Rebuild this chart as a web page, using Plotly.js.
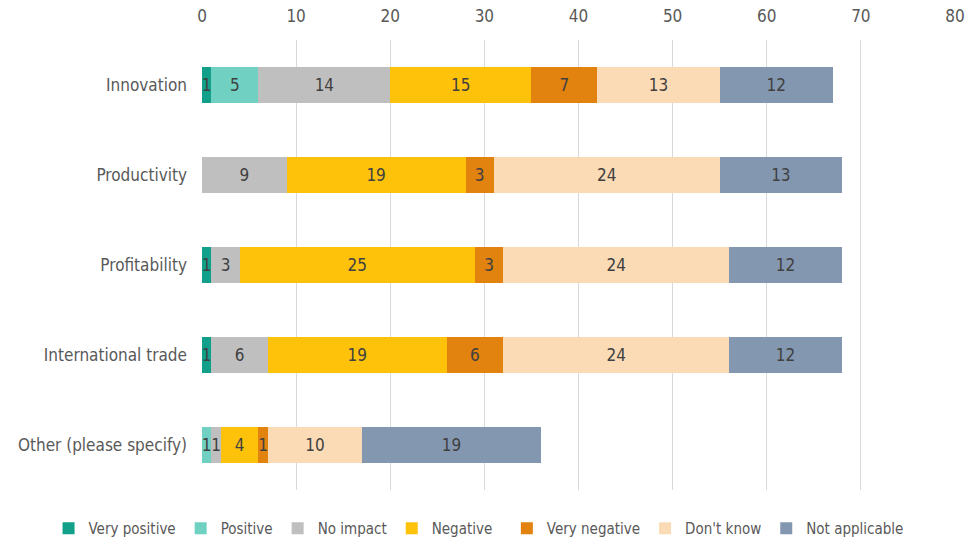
<!DOCTYPE html>
<html>
<head>
<meta charset="utf-8">
<script src="https://cdn.plot.ly/plotly-3.0.1.min.js"></script>
<style>html,body{margin:0;padding:0;background:#fff;}#chart{width:971px;height:545px;}</style>
</head>
<body>
<div id="chart"></div>
<script>
const categories = ["Innovation", "Productivity", "Profitability", "International trade", "Other (please specify)"];
const seriesNames = ["Very positive", "Positive", "No impact", "Negative", "Very negative", "Don't know", "Not applicable"];
const veryPositive = [1, 0, 1, 1, 0];
const positive = [5, 0, 0, 0, 1];
const noImpact = [14, 9, 3, 6, 1];
const negative = [15, 19, 25, 19, 4];
const veryNegative = [7, 3, 3, 6, 1];
const dontKnow = [13, 24, 24, 24, 10];
const notApplicable = [12, 13, 12, 12, 19];
const tickVals = [0, 10, 20, 30, 40, 50, 60, 70, 80];

const seriesValues = [veryPositive, positive, noImpact, negative, veryNegative, dontKnow, notApplicable];
const colors = ["#12A08A", "#70D0C2", "#BFBFBF", "#FFC20A", "#E2820F", "#FBDBB6", "#8497B0"];
const legendGroups = ["legend", "legend", "legend", "legend", "legend2", "legend2", "legend2"];
const FONT = "'DejaVu Sans Condensed', sans-serif";

const traces = seriesNames.map((name, i) => ({
  type: "bar",
  orientation: "h",
  name: name,
  legend: legendGroups[i],
  y: categories,
  x: seriesValues[i],
  text: seriesValues[i].map(v => v ? String(v) : ""),
  textposition: "inside",
  insidetextanchor: "middle",
  constraintext: "none",
  textfont: {color: "#404040", size: 17, family: FONT},
  marker: {color: colors[i], line: {width: 0}},
  hoverinfo: "x+name"
}));

const legendBase = {
  orientation: "h",
  xref: "container", xanchor: "left",
  y: -0.008, yref: "container", yanchor: "bottom",
  font: {size: 15, color: "#595959"},
  traceorder: "normal",
  itemwidth: 30,
  tracegroupgap: 0,
  bgcolor: "rgba(0,0,0,0)"
};

const layout = {
  width: 971, height: 545,
  barmode: "stack",
  bargap: 0.59,
  margin: {l: 202, r: 16, t: 40, b: 55, autoexpand: false},
  paper_bgcolor: "#fff",
  plot_bgcolor: "#fff",
  font: {family: FONT, color: "#595959", size: 17},
  xaxis: {
    side: "top",
    range: [0, 80],
    tickvals: tickVals,
    ticktext: tickVals.map(String),
    showgrid: true,
    gridcolor: "#D9D9D9",
    gridwidth: 1,
    zeroline: false,
    showline: false,
    ticks: "",
    ticklabelstandoff: 14,
    tickfont: {size: 17, color: "#595959"}
  },
  yaxis: {
    autorange: "reversed",
    showgrid: false,
    zeroline: false,
    showline: false,
    ticks: "",
    ticklabelstandoff: 14,
    tickfont: {size: 17, color: "#595959"}
  },
  legend: Object.assign({}, legendBase, {x: 0.05}),
  legend2: Object.assign({}, legendBase, {x: 0.522}),
  showlegend: true
};

Plotly.newPlot("chart", traces, layout, {displayModeBar: false, staticPlot: true});
</script>
</body>
</html>
